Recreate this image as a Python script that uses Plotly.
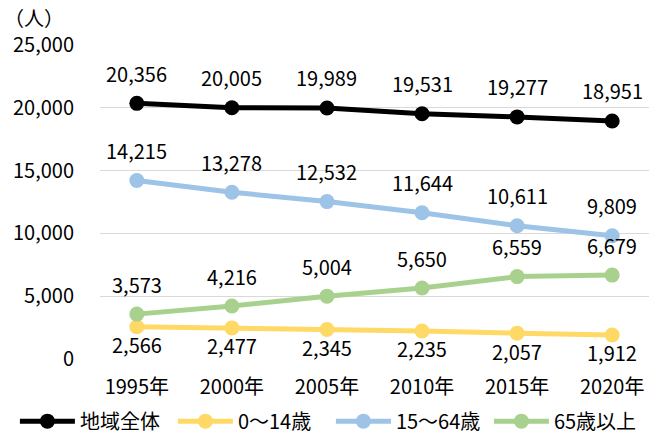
import plotly.graph_objects as go

years = ["1995年", "2000年", "2005年", "2010年", "2015年", "2020年"]
total = [20356, 20005, 19989, 19531, 19277, 18951]
age_0_14 = [2566, 2477, 2345, 2235, 2057, 1912]
age_15_64 = [14215, 13278, 12532, 11644, 10611, 9809]
age_65_plus = [3573, 4216, 5004, 5650, 6559, 6679]

series = [
    ("地域全体", total, "#000000", 30),
    ("0～14歳", age_0_14, "#ffd966", -18),
    ("15～64歳", age_15_64, "#9dc3e6", 30),
    ("65歳以上", age_65_plus, "#a9d18e", 30),
]

FONT = "Noto Sans CJK JP"
FS = 20

fig = go.Figure()
annotations = []
for name, vals, color, shift in series:
    fig.add_trace(go.Scatter(
        x=years, y=vals, name=name, mode="lines+markers",
        line=dict(color=color, width=5),
        marker=dict(color=color, size=15),
    ))
    for x, v in zip(years, vals):
        annotations.append(dict(
            x=x, y=v, text=f"{v:,}", showarrow=False, yshift=shift,
            font=dict(family=FONT, size=FS, color="#000000"),
        ))

annotations.append(dict(
    xref="paper", yref="paper", x=-0.178, y=1.0, yshift=28,
    xanchor="left", yanchor="middle",
    text="（人）", showarrow=False,
    font=dict(family=FONT, size=FS, color="#000000"),
))

fig.update_layout(
    width=658, height=436,
    margin=dict(l=100, r=9, t=45, b=77, autoexpand=False),
    paper_bgcolor="white", plot_bgcolor="white",
    font=dict(family=FONT, size=FS, color="#000000"),
    annotations=annotations,
    showlegend=True,
    legend=dict(orientation="h", x=-0.155, xanchor="left", xref="paper",
                y=-0.198, yanchor="middle", yref="paper",
                font=dict(family=FONT, size=FS), itemwidth=55,
                entrywidth=88, entrywidthmode="pixels",
                tracegroupgap=0),
    xaxis=dict(showgrid=False, showline=False, ticks="", ticklabelstandoff=14,
               tickangle=0, tickfont=dict(family=FONT, size=FS)),
    yaxis=dict(range=[0, 25000], tickvals=[0, 5000, 10000, 15000, 20000, 25000],
               tickformat=",d", showgrid=True, gridcolor="#d9d9d9", gridwidth=1,
               zeroline=False, showline=False, ticks="", ticklabelstandoff=25,
               tickfont=dict(family=FONT, size=FS)),
)

fig.write_html("out.html")
